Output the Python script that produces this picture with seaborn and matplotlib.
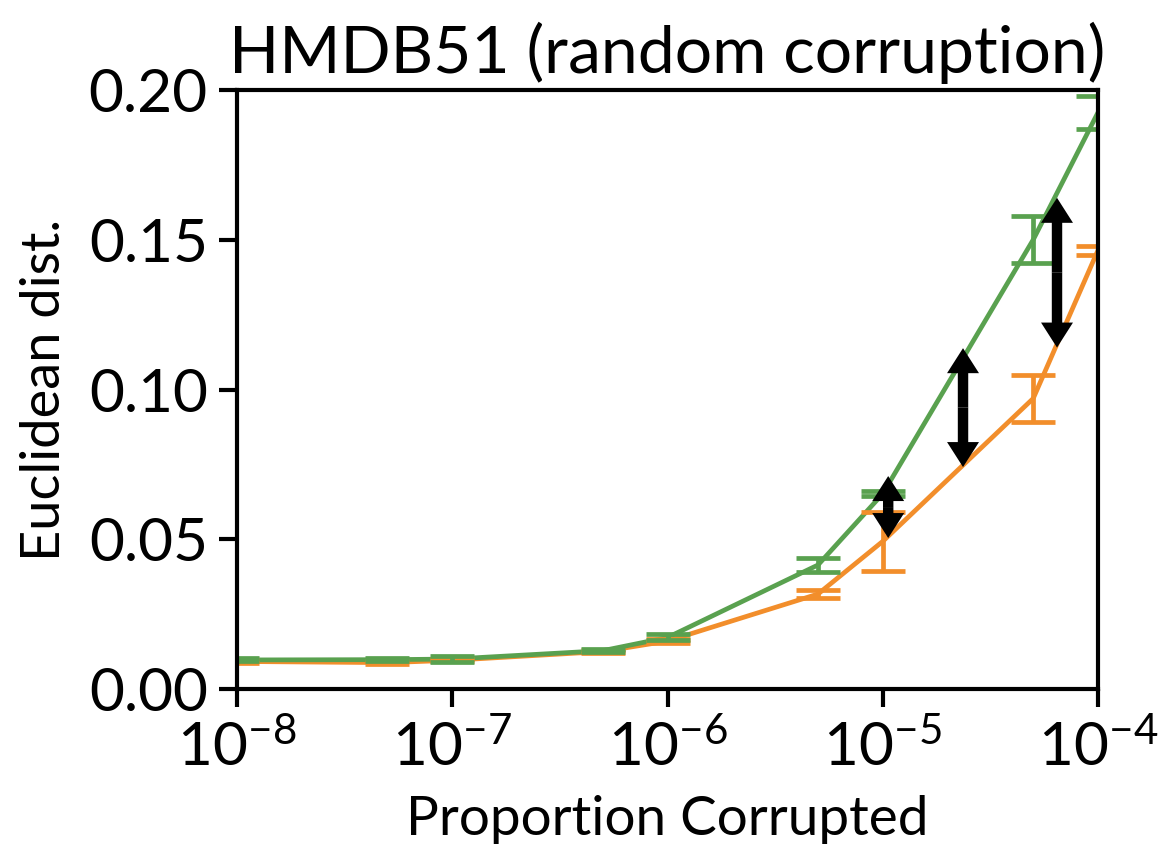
import numpy as np
import pandas as pd
import matplotlib
matplotlib.use("Agg")
import matplotlib.pyplot as plt
import seaborn as sns

# ---- data ----
proportion = [1e-8, 5e-8, 1e-7, 5e-7, 1e-6, 5e-6, 1e-5, 5e-5, 1e-4]
green_mean = [0.0097, 0.0098, 0.0100, 0.0128, 0.0172, 0.0414, 0.0652, 0.1500, 0.1925]
green_err = [0.0005, 0.0005, 0.0010, 0.0005, 0.0010, 0.0025, 0.0008, 0.0078, 0.0055]
orange_mean = [0.0092, 0.0088, 0.0096, 0.0125, 0.0160, 0.0317, 0.0493, 0.0970, 0.1465]
orange_err = [0.0004, 0.0005, 0.0004, 0.0005, 0.0008, 0.0013, 0.0098, 0.0080, 0.0015]

arrow_x = [1.06e-5, 2.36e-5, 6.45e-5]
arrow_top = [0.0711, 0.1138, 0.1640]
arrow_bottom = [0.0504, 0.0741, 0.1140]

title = "HMDB51 (random corruption)"
xlabel = "Proportion Corrupted"
ylabel = "Euclidean dist."

GREEN = "#59a14f"
ORANGE = "#f28e2b"

sns.set_theme(style="ticks")
plt.rcParams["font.family"] = ["Lato", "DejaVu Sans"]
plt.rcParams["mathtext.fontset"] = "custom"
plt.rcParams["mathtext.rm"] = "Lato"
plt.rcParams["mathtext.it"] = "Lato:italic"
plt.rcParams["mathtext.bf"] = "Lato:bold"
for k in ["text.color", "axes.labelcolor", "xtick.color", "ytick.color", "axes.edgecolor"]:
    plt.rcParams[k] = "black"

fig = plt.figure(figsize=(11.58, 8.51), dpi=100)
ax = fig.add_axes([237 / 1158, 1 - 689 / 851, (1098 - 237) / 1158, (689 - 90) / 851])

df = pd.DataFrame({
    "x": proportion * 2,
    "y": orange_mean + green_mean,
    "series": ["orange"] * len(proportion) + ["green"] * len(proportion),
})

LW = 3.4
sns.lineplot(data=df, x="x", y="y", hue="series", palette={"orange": ORANGE, "green": GREEN},
             hue_order=["orange", "green"], linewidth=LW, ax=ax, legend=False, errorbar=None)

ax.errorbar(proportion, orange_mean, yerr=orange_err, fmt="none", ecolor=ORANGE,
            elinewidth=LW, capsize=16, capthick=LW, zorder=2)
ax.errorbar(proportion, green_mean, yerr=green_err, fmt="none", ecolor=GREEN,
            elinewidth=LW, capsize=16, capthick=LW, zorder=2.5)

for xa, yt, yb in zip(arrow_x, arrow_top, arrow_bottom):
    ym = 0.5 * (yt + yb)
    for tip in (yt, yb):
        ax.annotate("", xy=(xa, tip), xytext=(xa, ym),
                    arrowprops=dict(width=7.5, headwidth=23, headlength=18,
                                    facecolor="black", edgecolor="black", lw=0, shrink=0),
                    zorder=5)

ax.set_xscale("log")
ax.set_xlim(1e-8, 1e-4)
ax.set_ylim(0, 0.2)
ax.set_yticks([0.0, 0.05, 0.10, 0.15, 0.20])
ax.set_yticklabels(["0.00", "0.05", "0.10", "0.15", "0.20"])
ax.set_xticks([1e-8, 1e-7, 1e-6, 1e-5, 1e-4])

for s in ax.spines.values():
    s.set_linewidth(3.0)
    s.set_color("black")
ax.tick_params(axis="both", which="major", labelsize=43.5, length=13, width=3.0, color="black", pad=8)
ax.tick_params(axis="x", which="minor", length=7, width=2.2, color="black")
ax.tick_params(axis="y", which="minor", left=False)

ax.set_title(title, fontsize=47.5, pad=12)
ax.set_xlabel(xlabel, fontsize=39.5, labelpad=14)
ax.set_ylabel(ylabel, fontsize=39, labelpad=14)

fig.savefig("out.png", dpi=100)
